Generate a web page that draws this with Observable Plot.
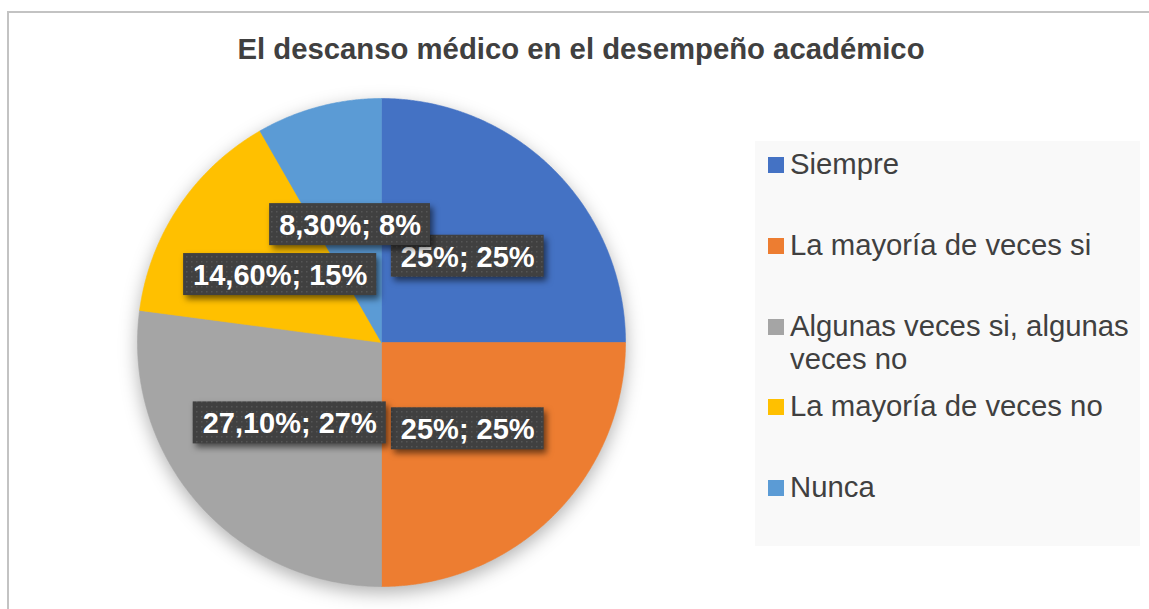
<!DOCTYPE html>
<html>
<head>
<meta charset="utf-8">
<script src="https://cdn.jsdelivr.net/npm/d3@7"></script>
<script src="https://cdn.jsdelivr.net/npm/@observablehq/plot@0.6"></script>
<style>
  body { margin: 0; background: #ffffff; }
  #wrap { position: relative; width: 1149px; height: 609px; overflow: hidden; font-family: "Liberation Sans", Arial, sans-serif; background: #fff; }
  #border { position: absolute; left: 7px; top: 11px; width: 1300px; height: 800px; border-left: 2px solid #c3c3c3; border-top: 2px solid #c3c3c3; box-sizing: border-box; }
  #title { position: absolute; left: 81px; width: 1000px; top: 34px; text-align: center; font-size: 29.3px; line-height: 29.3px; font-weight: bold; color: #404040; white-space: nowrap; }
  #chart { position: absolute; left: 0; top: 0; }
  #legend { position: absolute; left: 755px; top: 141px; width: 385px; height: 405px; background: #f9f9f9; }
  .item { position: absolute; left: 0; width: 385px; }
  .sw { position: absolute; left: 13px; width: 16px; height: 16px; }
  .lt { position: absolute; left: 35px; width: 348px; font-size: 29.3px; line-height: 33px; color: #404040; }
</style>
</head>
<body>
<div id="wrap">
  <div id="border"></div>
  <div id="title"></div>
  <div id="chart"></div>
  <div id="legend"></div>
</div>
<script>
// ---- data ----
const titleText = "El descanso médico en el desempeño académico";
const categories = ["Siempre", "La mayoría de veces si", "Algunas veces si, algunas veces no", "La mayoría de veces no", "Nunca"];
const values = [25, 25, 27.1, 14.6, 8.3];
const valueLabels = ["25%", "25%", "27,10%", "14,60%", "8,30%"];
const colors = ["#4472C4", "#ED7D31", "#A5A5A5", "#FFC000", "#5B9BD5"];

// ---- title ----
document.getElementById("title").textContent = titleText;

// ---- pie geometry from data ----
const total = d3.sum(values);
const arcs = d3.pie().sort(null).value(d => d)(values);
const slicePts = [];
arcs.forEach((a, i) => {
  slicePts.push({cat: categories[i], x: 0, y: 0});
  const n = Math.max(2, Math.ceil((a.endAngle - a.startAngle) / 0.005));
  for (let k = 0; k <= n; k++) {
    const t = a.startAngle + (a.endAngle - a.startAngle) * k / n;
    slicePts.push({cat: categories[i], x: Math.sin(t), y: -Math.cos(t)});
  }
  slicePts.push({cat: categories[i], x: 0, y: 0});
});

const PX = 244; // pixels per unit radius
const font = "'Liberation Sans', Arial, sans-serif";
const FS = 29;
const ctx = document.createElement("canvas").getContext("2d");
ctx.font = `bold ${FS}px 'Liberation Sans'`;
const labels = arcs.map((a, i) => {
  const mid = (a.startAngle + a.endAngle) / 2;
  const text = `${valueLabels[i]}; ${Math.round(values[i] / total * 100)}%`;
  const tw = ctx.measureText(text).width;
  const lx = 0.5 * Math.sin(mid), ly = -0.5 * Math.cos(mid);
  const hw = (tw / 2 + 9.5) / PX, hh = 21 / PX;
  return {text, x: lx, y: ly, x1: lx - hw, x2: lx + hw, y1: ly - hh, y2: ly + hh};
});

const labelMarks = [];
labels.forEach(d => {
  labelMarks.push(Plot.rect([d], {x1: "x1", x2: "x2", y1: "y1", y2: "y2", fill: "url(#dots)"}));
  labelMarks.push(Plot.text([d], {x: "x", y: "y", text: "text", fill: "white", fontSize: FS, fontWeight: "bold", fontFamily: font, textAnchor: "middle", lineAnchor: "middle", dy: 1}));
});

const plot = Plot.plot({
  width: 1149,
  height: 609,
  margin: 0,
  style: {background: "transparent", fontFamily: font, overflow: "visible"},
  x: {domain: [-1, 1], range: [137, 625], axis: null},
  y: {domain: [-1, 1], range: [98, 586], axis: null},
  color: {domain: categories, range: colors},
  marks: [
    Plot.line(slicePts, {x: "x", y: "y", z: "cat", fill: "cat", stroke: "cat", strokeWidth: 0.6, curve: "linear"}),
    ...labelMarks
  ]
});

// pattern for label boxes
const svgNS = "http://www.w3.org/2000/svg";
const defs = document.createElementNS(svgNS, "defs");
defs.innerHTML = `<pattern id="dots" width="5" height="5" patternUnits="userSpaceOnUse">
  <rect width="5" height="5" fill="#404040"></rect>
  <rect x="1" y="1" width="1.5" height="1.5" fill="#555555"></rect>
</pattern>`;
plot.insertBefore(defs, plot.firstChild);
plot.querySelectorAll('g[aria-label="line"]').forEach(g => g.style.filter = "drop-shadow(0px 6px 9px rgba(0,0,0,0.30))");
plot.querySelectorAll('g[aria-label="rect"]').forEach(g => g.style.filter = "drop-shadow(3px 4px 3px rgba(0,0,0,0.55))");
document.getElementById("chart").appendChild(plot);

// ---- legend ----
const legend = document.getElementById("legend");
categories.forEach((c, i) => {
  const capCenter = 22 + i * 80.75; // relative to legend box top
  const item = document.createElement("div");
  item.className = "item";
  item.innerHTML = `<div class="sw" style="top:${capCenter - 6}px;background:${colors[i]}"></div><div class="lt" style="top:${capCenter - 16}px">${c}</div>`;
  legend.appendChild(item);
});
</script>
</body>
</html>
